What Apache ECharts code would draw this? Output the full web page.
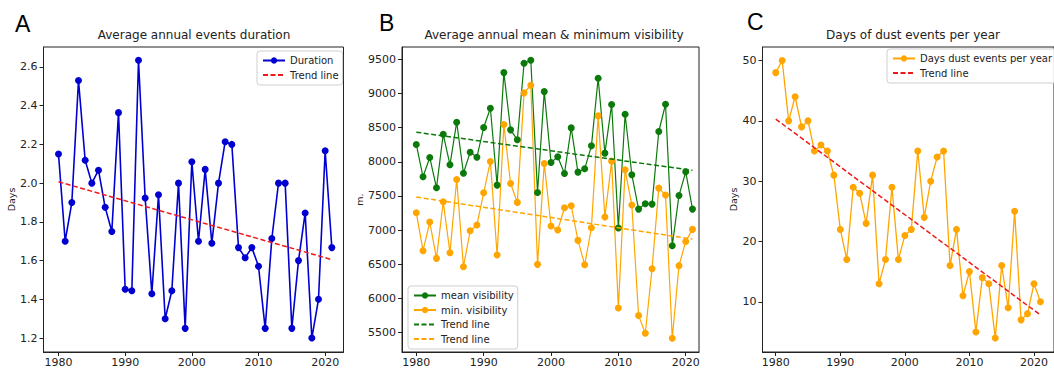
<!DOCTYPE html>
<html><head><meta charset="utf-8">
<script src="https://cdn.jsdelivr.net/npm/echarts@6/dist/echarts.min.js"></script>
<style>html,body{margin:0;padding:0;background:#fff;overflow:hidden}#c{width:1054px;height:369px}</style>
</head><body><div id="c"></div>
<script>
// ---- data ----
const years = [1980,1981,1982,1983,1984,1985,1986,1987,1988,1989,1990,1991,1992,1993,1994,1995,1996,1997,1998,1999,2000,2001,2002,2003,2004,2005,2006,2007,2008,2009,2010,2011,2012,2013,2014,2015,2016,2017,2018,2019,2020,2021];
const duration = [2.15,1.70,1.90,2.53,2.118,2.0,2.067,1.875,1.75,2.364,1.452,1.444,2.635,1.923,1.429,1.94,1.30,1.444,2.0,1.25,2.11,1.70,2.071,1.69,2.0,2.214,2.2,1.667,1.615,1.667,1.571,1.25,1.714,2.0,2.0,1.25,1.60,1.846,1.2,1.40,2.167,1.667];
const trendDuration = [[1980,2.007],[2021,1.605]];
const meanVis = [8253,7780,8063,7619,8404,7955,8579,7833,8140,8067,8501,8784,7658,9305,8467,8321,9442,9485,7551,9027,7989,8072,7829,8496,7848,7897,8233,9222,8126,8837,7029,8696,7809,7307,7385,7380,8443,8842,6771,7507,7853,7307];
const minVis = [7254,6698,7117,6586,7414,6669,7741,6464,6990,7073,7546,8004,6635,8545,7682,7405,9008,9120,6498,7975,7059,7000,7327,7356,6849,6493,7034,8672,7190,8009,5860,7882,7366,5748,5490,6435,7614,7512,5416,6479,6834,7010];
const trendMeanVis = [[1980,8433],[2021,7875]];
const trendMinVis = [[1980,7484],[2021,6868]];
const dustDays = [48,50,40,44,39,40,35,36,35,31,22,17,29,28,23,31,13,17,29,17,21,22,35,24,30,34,35,16,22,11,15,5,14,13,4,16,9,25,7,8,13,10];
const trendDust = [[1980,40.3],[2021,7.8]];
const xTicks = [1980,1990,2000,2010,2020];
const yTicksA = [1.2,1.4,1.6,1.8,2.0,2.2,2.4,2.6];
const yTicksB = [5500,6000,6500,7000,7500,8000,8500,9000,9500];
const yTicksC = [10,20,30,40,50];

const pairs = (vals) => years.map((y, i) => [y, vals[i]]);

const FONT = 'DejaVu Sans';
const INK = '#222';
const BLUE = '#0000d0', GREEN = '#0b7a0b', ORANGE = '#ffa500', RED = '#f01818';

function xAxis(gi, min, max) {
  return {
    gridIndex: gi, type: 'value', min: min, max: max,
    axisLine: {show: true, onZero: false, lineStyle: {color: INK, width: 1}},
    axisTick: {show: true, length: 4, customValues: xTicks, lineStyle: {color: INK}},
    axisLabel: {customValues: xTicks, fontSize: 11, color: INK, margin: 5, fontFamily: FONT, formatter: v => String(v)},
    splitLine: {show: false}
  };
}
function yAxis(gi, min, max, ticks, fmt, name, gap) {
  return {
    gridIndex: gi, type: 'value', min: min, max: max,
    name: name, nameLocation: 'middle', nameGap: gap, nameRotate: 90,
    nameTextStyle: {fontSize: 9.5, color: INK, fontFamily: FONT},
    axisLine: {show: true, onZero: false, lineStyle: {color: INK, width: 1}},
    axisTick: {show: true, length: 4, customValues: ticks, lineStyle: {color: INK}},
    axisLabel: {customValues: ticks, fontSize: 11, color: INK, margin: 6, fontFamily: FONT, formatter: fmt},
    splitLine: {show: false}
  };
}
function legend(items, left, top) {
  return {
    data: items, orient: 'vertical', left: left, top: top,
    itemWidth: 22, itemHeight: 8, itemGap: 2.5, padding: [3.5, 4, 4, 5],
    borderColor: '#cfcfcf', borderWidth: 1, borderRadius: 3,
    backgroundColor: 'rgba(255,255,255,0.85)',
    textStyle: {fontSize: 10, color: INK, fontFamily: FONT, lineHeight: 12},
    selectedMode: false
  };
}
const noMark = (name) => ({name: name, itemStyle: {opacity: 0}});
function dataLine(name, xi, data, color, w) {
  return {
    name: name, type: 'line', xAxisIndex: xi, yAxisIndex: xi, data: data,
    symbol: 'circle', symbolSize: 7, showSymbol: true,
    lineStyle: {color: color, width: w}, itemStyle: {color: color},
    emphasis: {disabled: true}, z: 3
  };
}
function trendLine(name, xi, data, color) {
  return {
    name: name, type: 'line', xAxisIndex: xi, yAxisIndex: xi, data: data,
    symbol: 'none', showSymbol: false,
    lineStyle: {color: color, width: 1.5, type: [5, 2.5]}, itemStyle: {color: color, opacity: 0},
    emphasis: {disabled: true}, z: 4
  };
}

const chart = echarts.init(document.getElementById('c'), null, {renderer: 'svg'});
chart.setOption({
  animation: false,
  backgroundColor: '#fff',
  grid: [
    {left: 43.5, top: 47, width: 300, height: 305, show: true, borderColor: INK, borderWidth: 1, backgroundColor: 'transparent'},
    {left: 402, top: 47, width: 297, height: 305, show: true, borderColor: INK, borderWidth: 1, backgroundColor: 'transparent'},
    {left: 762.5, top: 47, width: 301, height: 305, show: true, borderColor: INK, borderWidth: 1, backgroundColor: 'transparent'}
  ],
  xAxis: [xAxis(0, 1977.75, 2022.75), xAxis(1, 1977.88, 2021.97), xAxis(2, 1977.95, 2023.1)],
  yAxis: [
    yAxis(0, 1.128, 2.703, yTicksA, v => v.toFixed(1), 'Days', 23),
    yAxis(1, 5215, 9680, yTicksB, v => String(v), 'm.', 34),
    yAxis(2, 1.67, 52.25, yTicksC, v => String(v), 'Days', 24)
  ],
  legend: [
    legend(['Duration', noMark('Trend line')], 257, 51),
    legend(['mean visibility', 'min. visibility', noMark('Trend line '), noMark('Trend line  ')], 408, 286),
    legend(['Days dust events per year', noMark('Trend line')], 887, 49)
  ],
  graphic: [
    {type: 'text', left: 15, top: 12, style: {text: 'A', fontSize: 23, fontFamily: 'Liberation Sans', fill: '#000'}},
    {type: 'text', left: 379, top: 11, style: {text: 'B', fontSize: 23, fontFamily: 'Liberation Sans', fill: '#000'}},
    {type: 'text', left: 747, top: 10, style: {text: 'C', fontSize: 23, fontFamily: 'Liberation Sans', fill: '#000'}},
    {type: 'text', x: 194, y: 35, style: {text: 'Average annual events duration', fontSize: 12, fontFamily: FONT, fill: INK, align: 'center', verticalAlign: 'middle'}},
    {type: 'text', x: 554, y: 35, style: {text: 'Average annual mean & minimum visibility', fontSize: 12, fontFamily: FONT, fill: INK, align: 'center', verticalAlign: 'middle'}},
    {type: 'text', x: 913, y: 35, style: {text: 'Days of dust events per year', fontSize: 12, fontFamily: FONT, fill: INK, align: 'center', verticalAlign: 'middle'}}
  ],
  series: [
    dataLine('Duration', 0, pairs(duration), BLUE, 1.6),
    trendLine('Trend line', 0, trendDuration, RED),
    dataLine('mean visibility', 1, pairs(meanVis), GREEN, 1.2),
    dataLine('min. visibility', 1, pairs(minVis), ORANGE, 1.2),
    trendLine('Trend line ', 1, trendMeanVis, GREEN),
    trendLine('Trend line  ', 1, trendMinVis, ORANGE),
    dataLine('Days dust events per year', 2, pairs(dustDays), ORANGE, 1.3),
    trendLine('Trend line', 2, trendDust, RED)
  ]
});
</script></body></html>
